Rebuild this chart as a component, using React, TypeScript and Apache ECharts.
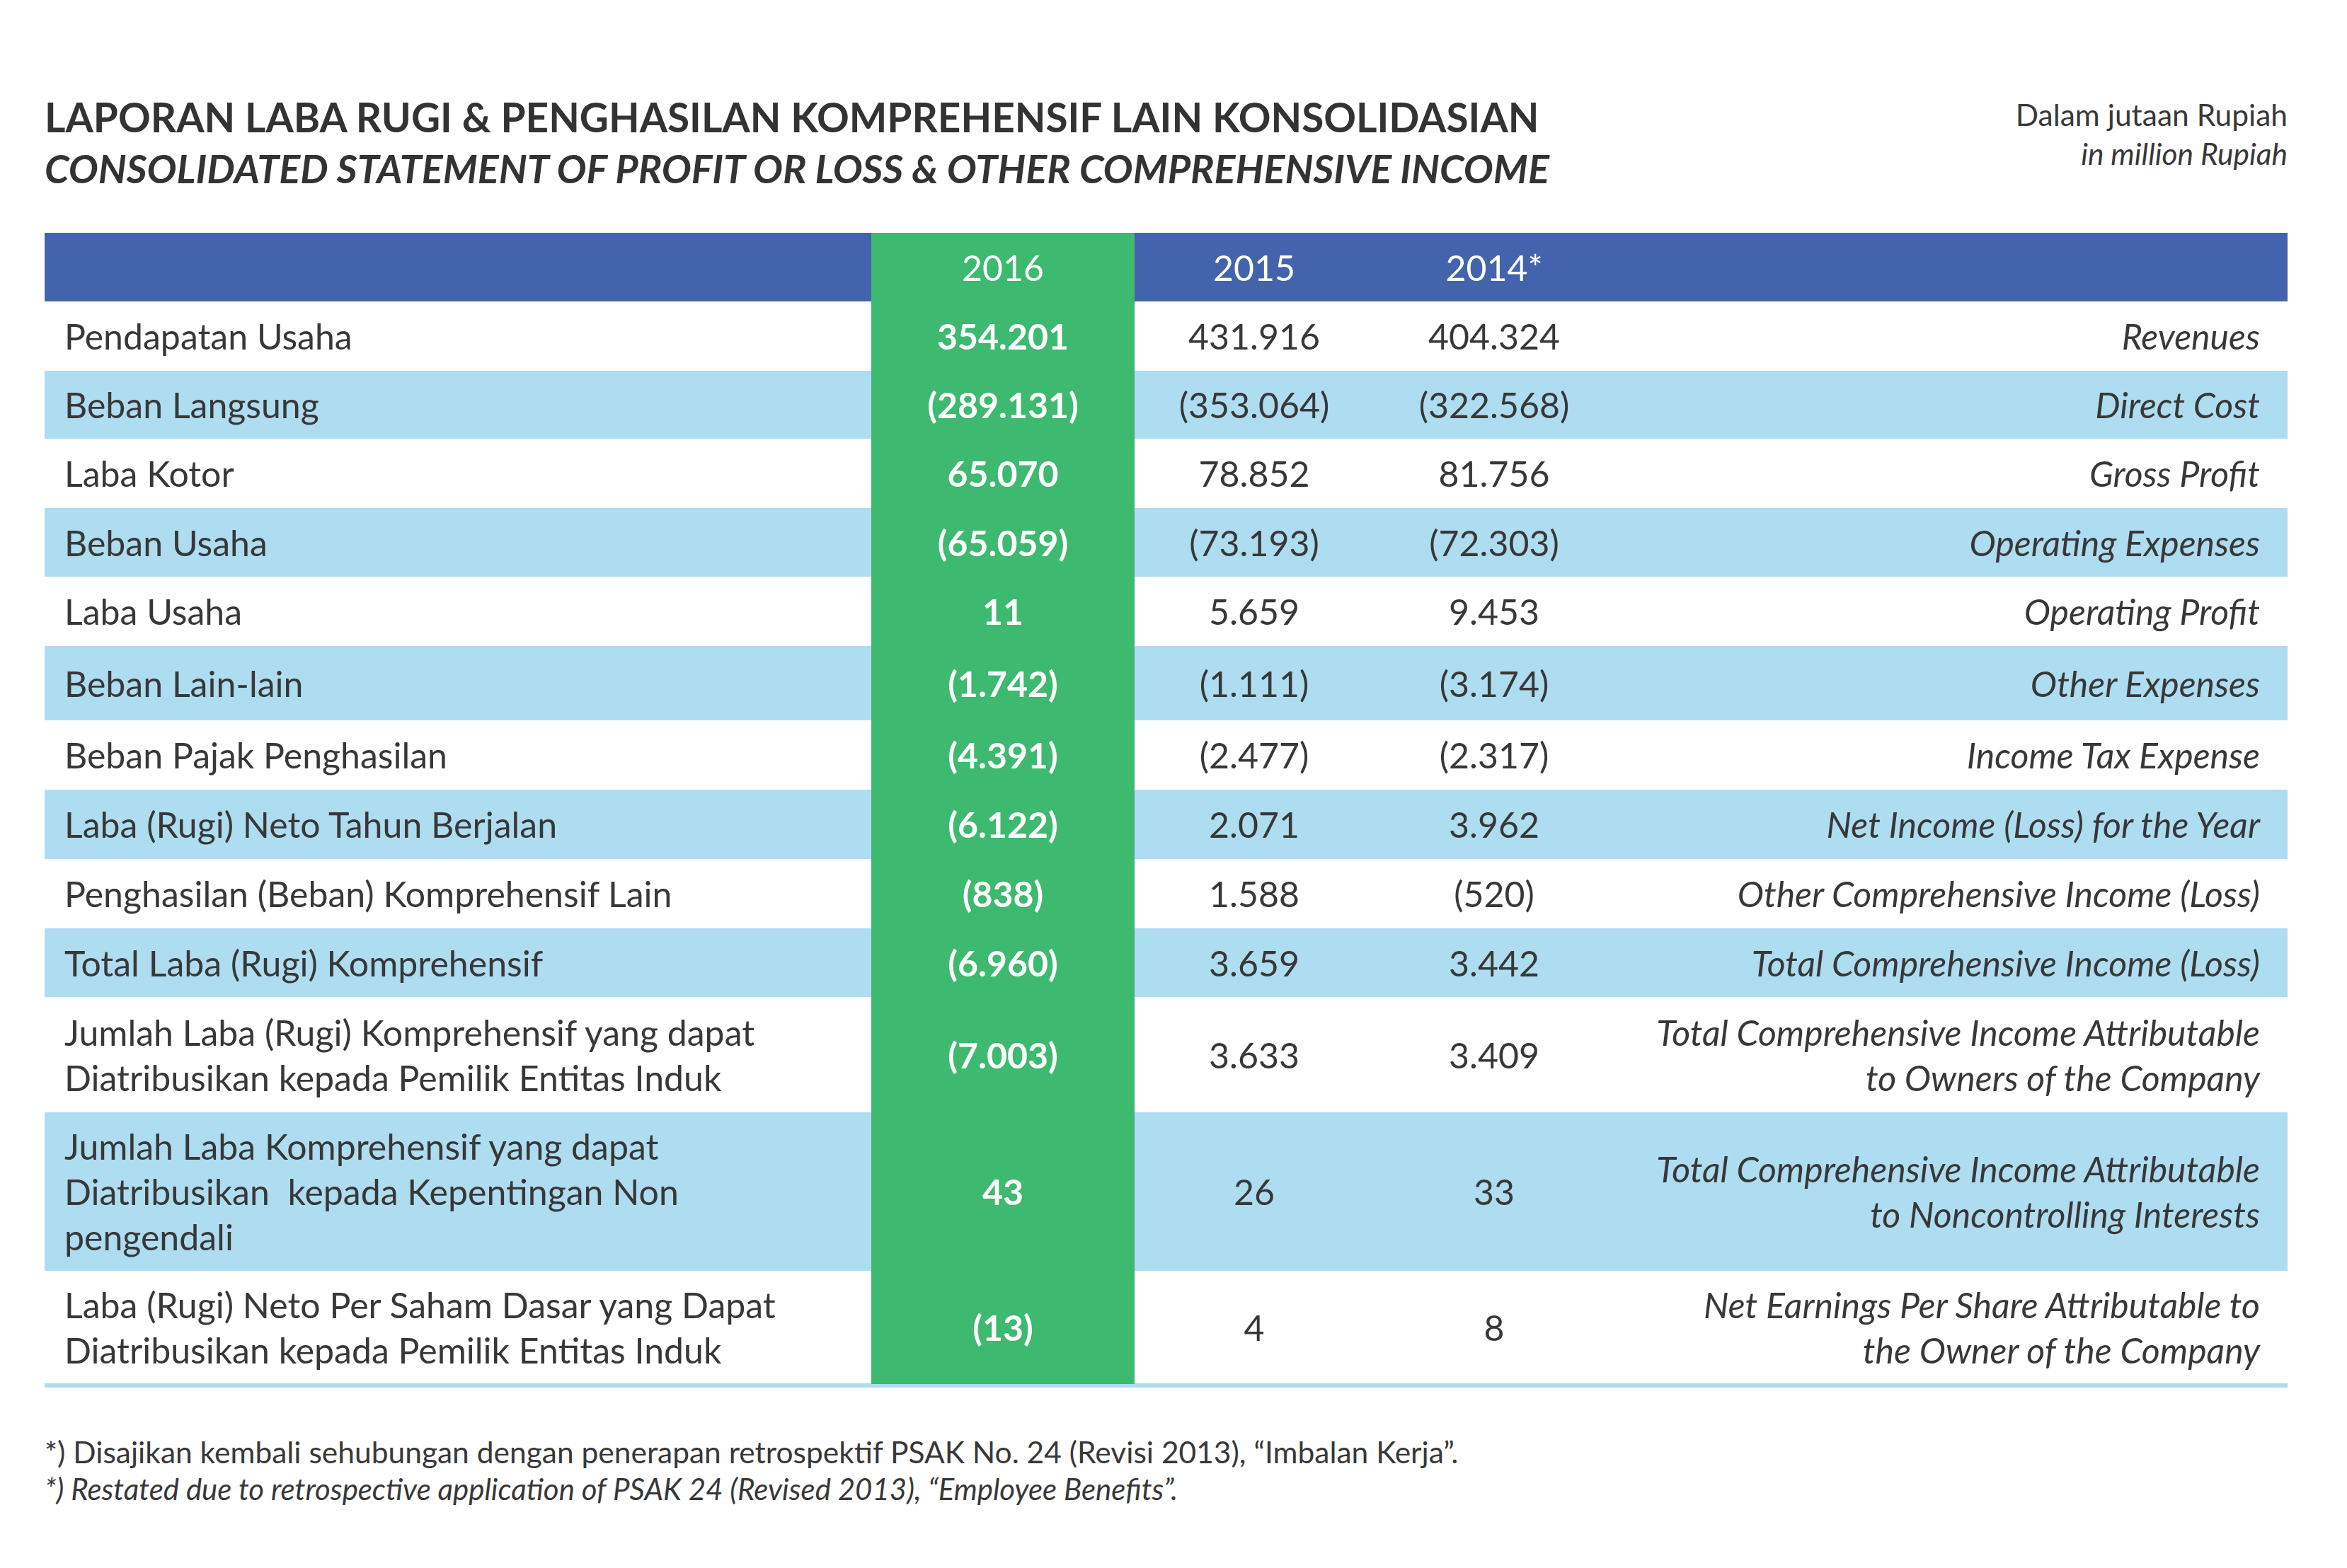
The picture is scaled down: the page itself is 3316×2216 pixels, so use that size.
import React, { useEffect, useRef } from 'react';
import * as echarts from 'echarts';

// ---------- DATA ----------
const titleId = 'LAPORAN LABA RUGI & PENGHASILAN KOMPREHENSIF LAIN KONSOLIDASIAN';
const titleEn = 'CONSOLIDATED STATEMENT OF PROFIT OR LOSS & OTHER COMPREHENSIVE INCOME';
const unitId = 'Dalam jutaan Rupiah';
const unitEn = 'in million Rupiah';
const yearHeaders = ['2016', '2015', '2014*'];
const labelsId = [
  'Pendapatan Usaha',
  'Beban Langsung',
  'Laba Kotor',
  'Beban Usaha',
  'Laba Usaha',
  'Beban Lain-lain',
  'Beban Pajak Penghasilan',
  'Laba (Rugi) Neto Tahun Berjalan',
  'Penghasilan (Beban) Komprehensif Lain',
  'Total Laba (Rugi) Komprehensif',
  'Jumlah Laba (Rugi) Komprehensif yang dapat\nDiatribusikan kepada Pemilik Entitas Induk',
  'Jumlah Laba Komprehensif yang dapat\nDiatribusikan  kepada Kepentingan Non\npengendali',
  'Laba (Rugi) Neto Per Saham Dasar yang Dapat\nDiatribusikan kepada Pemilik Entitas Induk',
];
const labelsEn = [
  'Revenues',
  'Direct Cost',
  'Gross Profit',
  'Operating Expenses',
  'Operating Profit',
  'Other Expenses',
  'Income Tax Expense',
  'Net Income (Loss) for the Year',
  'Other Comprehensive Income (Loss)',
  'Total Comprehensive Income (Loss)',
  'Total Comprehensive Income Attributable\nto Owners of the Company',
  'Total Comprehensive Income Attributable\nto Noncontrolling Interests',
  'Net Earnings Per Share Attributable to\nthe Owner of the Company',
];
const values2016 = [354201, -289131, 65070, -65059, 11, -1742, -4391, -6122, -838, -6960, -7003, 43, -13];
const values2015 = [431916, -353064, 78852, -73193, 5659, -1111, -2477, 2071, 1588, 3659, 3633, 26, 4];
const values2014 = [404324, -322568, 81756, -72303, 9453, -3174, -2317, 3962, -520, 3442, 3409, 33, 8];
const footnoteId = '*) Disajikan kembali sehubungan dengan penerapan retrospektif PSAK No. 24 (Revisi 2013), \u201cImbalan Kerja\u201d.';
const footnoteEn = '*) Restated due to retrospective application of PSAK 24 (Revised 2013), \u201cEmployee Benefits\u201d.';

// ---------- LAYOUT ----------
const rowHeights = [98, 96, 98, 97, 98, 105, 98, 98, 98, 97, 163, 224, 159];
const W = 3316;
const H = 2216;
const tableLeft = 63;
const tableRight = 3232;
const headerTop = 329;
const headerBottom = 426;
const greenLeft = 1231;
const greenRight = 1603;
const colCenters = [1417, 1772, 2111];
const labelX = 91;
const enRightX = 3193;
const FONT = 'Lato';
const FS = 50;
const LH = 64;

const C_BLUE = '#4363ad';
const C_GREEN = '#3db970';
const C_LIGHT = '#aedcf0';
const C_TEXT = '#383838';

function fmt(n: number): string {
  const s = Math.abs(n).toString().replace(/\B(?=(\d{3})+(?!\d))/g, '.');
  return n < 0 ? `(${s})` : s;
}

function txt(x: number, y: number, text: string, opts: any = {}) {
  const align = opts.align || 'left';
  return {
    type: 'text',
    x,
    y,
    z: 10,
    style: {
      text,
      fill: opts.fill || C_TEXT,
      fontFamily: FONT,
      fontSize: opts.fontSize || FS,
      fontWeight: opts.fontWeight || 'normal',
      fontStyle: opts.fontStyle || 'normal',
      lineHeight: opts.lineHeight || LH,
      align,
      textAlign: align,
      verticalAlign: 'middle',
      textVerticalAlign: 'middle',
    },
  };
}

function buildGraphics() {
  const els: any[] = [];
  // header bar
  els.push({ type: 'rect', z: 1, shape: { x: tableLeft, y: headerTop, width: tableRight - tableLeft, height: headerBottom - headerTop }, style: { fill: C_BLUE } });
  // rows
  let y = headerBottom;
  const rowCenters: number[] = [];
  rowHeights.forEach((h, i) => {
    if (i % 2 === 1) {
      els.push({ type: 'rect', z: 1, shape: { x: tableLeft, y, width: tableRight - tableLeft, height: h }, style: { fill: C_LIGHT } });
    }
    rowCenters.push(y + h / 2);
    y += h;
  });
  const tableBottom = y;
  // bottom rule
  els.push({ type: 'rect', z: 1, shape: { x: tableLeft, y: tableBottom, width: tableRight - tableLeft, height: 6 }, style: { fill: C_LIGHT } });
  // green highlight column
  els.push({ type: 'rect', z: 2, shape: { x: greenLeft, y: headerTop, width: greenRight - greenLeft, height: tableBottom - headerTop + 1 }, style: { fill: C_GREEN } });

  // header texts
  const headerMid = (headerTop + headerBottom) / 2;
  yearHeaders.forEach((yr, j) => {
    els.push(txt(colCenters[j], headerMid, yr, { align: 'center', fill: '#ffffff' }));
  });

  // row texts
  const cols = [values2016, values2015, values2014];
  labelsId.forEach((lab, i) => {
    const cy = rowCenters[i];
    els.push(txt(labelX, cy, lab));
    els.push(txt(enRightX, cy, labelsEn[i], { align: 'right', fontStyle: 'italic' }));
    cols.forEach((arr, j) => {
      els.push(txt(colCenters[j], cy, fmt(arr[i]), {
        align: 'center',
        fill: j === 0 ? '#ffffff' : C_TEXT,
        fontWeight: j === 0 ? 'bold' : 'normal',
      }));
    });
  });

  // titles
  els.push(txt(tableLeft, 165, titleId, { fontSize: 56.7, fontWeight: 'bold', fill: '#333333' }));
  els.push(txt(tableLeft, 237, titleEn, { fontSize: 55.8, fontWeight: 'bold', fontStyle: 'italic', fill: '#333333' }));
  els.push(txt(tableRight, 161, unitId, { fontSize: 42.5, align: 'right' }));
  els.push(txt(tableRight, 216, unitEn, { fontSize: 42.5, align: 'right', fontStyle: 'italic' }));

  // footnotes
  els.push(txt(tableLeft, 2051, footnoteId, { fontSize: 42.5 }));
  els.push(txt(tableLeft, 2104, footnoteEn, { fontSize: 42, fontStyle: 'italic' }));
  return els;
}

export default function App() {
  const ref = useRef<HTMLDivElement>(null);
  useEffect(() => {
    document.body.style.margin = '0';
    const chart = echarts.init(ref.current!, null, { renderer: 'svg' });
    chart.setOption({
      animation: false,
      backgroundColor: '#ffffff',
      graphic: { elements: buildGraphics() },
    });
    return () => chart.dispose();
  }, []);
  return <div ref={ref} style={{ width: W, height: H }} />;
}
